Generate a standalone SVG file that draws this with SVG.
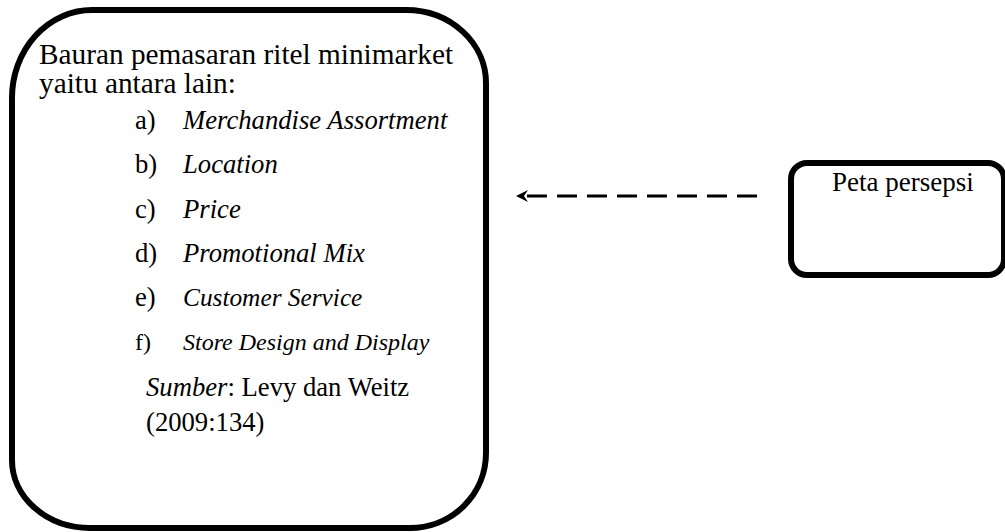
<svg xmlns="http://www.w3.org/2000/svg" width="1005" height="532" viewBox="0 0 1005 532">
  <style>
    .box { fill: #fff; stroke: #000; stroke-width: 6; }
    .txt { font-family: "Liberation Serif", "Times New Roman", serif; fill: #000; }
    .head { font-size: 29.3px; }
    .item { font-size: 26.67px; }
    .it { font-style: italic; }
    .dash { fill: none; stroke: #000; stroke-width: 3; stroke-dasharray: 20 10; }
  </style>

  <g id="mix-box">
    <path class="box" d="M 92,10 H 406 A 80,73 0 0 1 486,83 V 453 A 76,75 0 0 1 410,528 H 90 A 78,68 0 0 1 12,460 V 98 A 80,88 0 0 1 92,10 Z"/>
    <text class="txt head" x="39" y="64">Bauran pemasaran ritel minimarket</text>
    <text class="txt head" x="39" y="93">yaitu antara lain:</text>
    <!-- list markers -->
    <text class="txt item" x="135" y="129">a)</text>
    <text class="txt item" x="135" y="173">b)</text>
    <text class="txt item" x="135" y="218">c)</text>
    <text class="txt item" x="135" y="262">d)</text>
    <text class="txt item" x="135" y="306">e)</text>
    <text class="txt" x="135" y="350" font-size="24">f)</text>
    <!-- list entries -->
    <text class="txt item it" x="183" y="129">Merchandise Assortment</text>
    <text class="txt item it" x="183" y="173">Location</text>
    <text class="txt item it" x="183" y="218">Price</text>
    <text class="txt item it" x="183" y="262">Promotional Mix</text>
    <text class="txt it" x="183" y="306" font-size="25.33">Customer Service</text>
    <text class="txt it" x="183" y="350" font-size="24">Store Design and Display</text>
    <!-- source -->
    <text class="txt item" x="146" y="396"><tspan class="it">Sumber</tspan>: Levy dan Weitz</text>
    <text class="txt item" x="146" y="431">(2009:134)</text>
  </g>

  <g id="peta-box">
    <rect class="box" x="791" y="163" width="213" height="112" rx="16" ry="16" stroke-width="5"/>
    <text class="txt" font-size="27" x="832" y="191">Peta persepsi</text>
  </g>

  <g id="connectors">
    <path class="dash" d="M 757,196 H 527"/>
    <path d="M 516,196 L 528,190 L 524,196 L 528,202 Z" fill="#000"/>
  </g>
</svg>
